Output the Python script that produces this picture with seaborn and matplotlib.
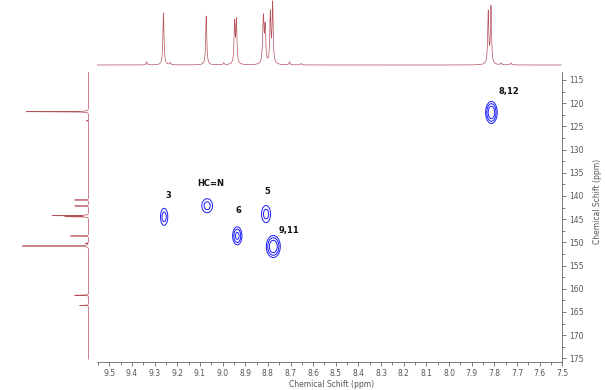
import numpy as np
import pandas as pd
import matplotlib
matplotlib.use("Agg")
import matplotlib.pyplot as plt
from matplotlib.ticker import FixedLocator, MultipleLocator
import seaborn as sns

# ---- 2D cross peaks (1H ppm, 13C ppm) ----
peak_labels = ["3", "HC=N", "6", "5", "9,11", "8,12"]
peak_h = [9.258, 9.068, 8.935, 8.808, 8.776, 7.813]
peak_c = [144.5, 142.1, 148.6, 143.9, 150.9, 122.0]
peak_amp = [0.5, 0.5, 0.7, 0.5, 0.9, 0.9]
peak_wh = [0.0137, 0.0201, 0.0143, 0.0169, 0.0193, 0.0160]
peak_wc = [1.56, 1.28, 1.35, 1.56, 1.48, 1.48]
label_h = [9.241, 9.054, 8.929, 8.803, 8.705, 7.734]
label_c = [140.0, 137.4, 143.1, 139.0, 147.5, 117.5]
contour_levels = [0.25, 0.4, 0.6]

# ---- 1H trace (top) ----
h1_shift = [9.335, 9.261, 9.231, 9.072, 8.995, 8.947, 8.939, 8.822, 8.819,
            8.812, 8.789, 8.779, 8.704, 8.653, 7.827, 7.815, 7.771, 7.727]
h1_height = [3, 52, 2, 49, 2, 41, 43, 20, 36, 35, 50, 60, 3, 1.5, 52, 57, 2, 2]

# ---- 13C projection (left) ----
c13_shift = [121.83, 123.8, 140.86, 142.16, 144.24, 144.46, 148.62, 150.2,
             150.78, 161.4, 163.6]
c13_height = [63, 2, 14, 14, 36, 23, 18, 3, 67, 14, 9]

# ---- axes ticks ----
x_ticks = [9.5, 9.4, 9.3, 9.2, 9.1, 9.0, 8.9, 8.8, 8.7, 8.6, 8.5, 8.4, 8.3,
           8.2, 8.1, 8.0, 7.9, 7.8, 7.7, 7.6, 7.5]
x_tick_labels = ["9.5", "9.4", "9.3", "9.2", "9.1", "9.0", "8.9", "8.8", "8.7",
                 "8.6", "8.5", "8.4", "8.3", "8.2", "8.1", "8.0", "7.9", "7.8",
                 "7.7", "7.6", "7.5"]
y_ticks = [115, 120, 125, 130, 135, 140, 145, 150, 155, 160, 165, 170, 175]
y_tick_labels = ["115", "120", "125", "130", "135", "140", "145", "150", "155",
                 "160", "165", "170", "175"]
x_label = "Chemical Schift (ppm)"
y_label = "Chemical Schift (ppm)"

XLIM = (9.5557, 7.5)
YLIM = (175.86, 113.34)

sns.set_theme(style="white")
plt.rcParams['font.family'] = ['DejaVu Sans']

W, H = 605, 390
fig = plt.figure(figsize=(W / 100, H / 100), dpi=100)


def rect(l, t, r, b):
    return [l / W, 1 - b / H, (r - l) / W, (b - t) / H]


ax = fig.add_axes(rect(96.7, 72.3, 562.3, 362.3))
axt = fig.add_axes(rect(96.7, 0, 562.3, 66))
axl = fig.add_axes(rect(15, 72.3, 89, 362.3))

trace_color = "#b5505b"

# ---- 2D contours ----
gx = np.linspace(XLIM[1], XLIM[0], 1400)
gy = np.linspace(YLIM[1], YLIM[0], 900)
GX, GY = np.meshgrid(gx, gy)
Z = np.zeros_like(GX)
for h, c, a, wh, wc in zip(peak_h, peak_c, peak_amp, peak_wh, peak_wc):
    Z += a * np.exp(-0.5 * (((GX - h) / wh) ** 2 + ((GY - c) / wc) ** 2))
ax.contour(GX, GY, Z, levels=contour_levels, colors="#1a1aff", linewidths=0.7)

for lab, lh, lc in zip(peak_labels, label_h, label_c):
    ax.text(lh, lc, lab, fontsize=6, fontweight="bold", color="#111111",
            ha="center", va="center")

ax.set_xlim(*XLIM)
ax.set_ylim(*YLIM)
for s in ["top", "left"]:
    ax.spines[s].set_visible(False)
for s in ["right", "bottom"]:
    ax.spines[s].set_color("#666666")
    ax.spines[s].set_linewidth(0.6)
ax.yaxis.tick_right()
ax.yaxis.set_label_position("right")
ax.xaxis.set_major_locator(FixedLocator(x_ticks))
ax.set_xticklabels(x_tick_labels)
ax.xaxis.set_minor_locator(MultipleLocator(0.05))
ax.yaxis.set_major_locator(FixedLocator(y_ticks))
ax.set_yticklabels(y_tick_labels)
ax.yaxis.set_minor_locator(MultipleLocator(2.5))
ax.tick_params(which="both", direction="out", color="#666666", width=0.6,
               labelsize=5.5, labelcolor="#555555")
ax.tick_params(which="major", length=3, pad=2)
ax.tick_params(which="minor", length=2)
ax.tick_params(axis="x", which="both", bottom=True, top=False)
ax.tick_params(axis="y", which="both", right=True, left=False)
ax.set_xlabel(x_label, fontsize=5.5, color="#555555")
ax.set_ylabel(y_label, fontsize=5.5, color="#555555", rotation=90)
ax.xaxis.set_label_coords(0.504, -0.061)
ax.yaxis.set_label_coords(1.067, 0.556)
ax.grid(False)

# ---- top 1H trace ----
hx = np.linspace(9.556, 7.504, 9000)
hy = np.zeros_like(hx)
g = 0.0028
for s, hh in zip(h1_shift, h1_height):
    hy += hh * g ** 2 / ((hx - s) ** 2 + g ** 2)
df_top = pd.DataFrame({"ppm": hx, "intensity": hy})
sns.lineplot(data=df_top, x="ppm", y="intensity", ax=axt, color=trace_color,
             linewidth=0.5, estimator=None, sort=False)
axt.set_xlim(*XLIM)
axt.set_ylim(-1, 65)
axt.axis("off")

# ---- left 13C projection ----
cy = np.linspace(113.2, 175.2, 9000)
cx = np.zeros_like(cy)
gc = 0.035
for s, hh in zip(c13_shift, c13_height):
    cx += hh * gc ** 2 / ((cy - s) ** 2 + gc ** 2)
df_left = pd.DataFrame({"ppm": cy, "intensity": cx})
sns.lineplot(data=df_left, x="intensity", y="ppm", ax=axl, color=trace_color,
             linewidth=0.5, estimator=None, sort=False, orient="y")
axl.set_xlim(74, -0.5)
axl.set_ylim(*YLIM)
axl.axis("off")

fig.savefig("out.png", dpi=100)
